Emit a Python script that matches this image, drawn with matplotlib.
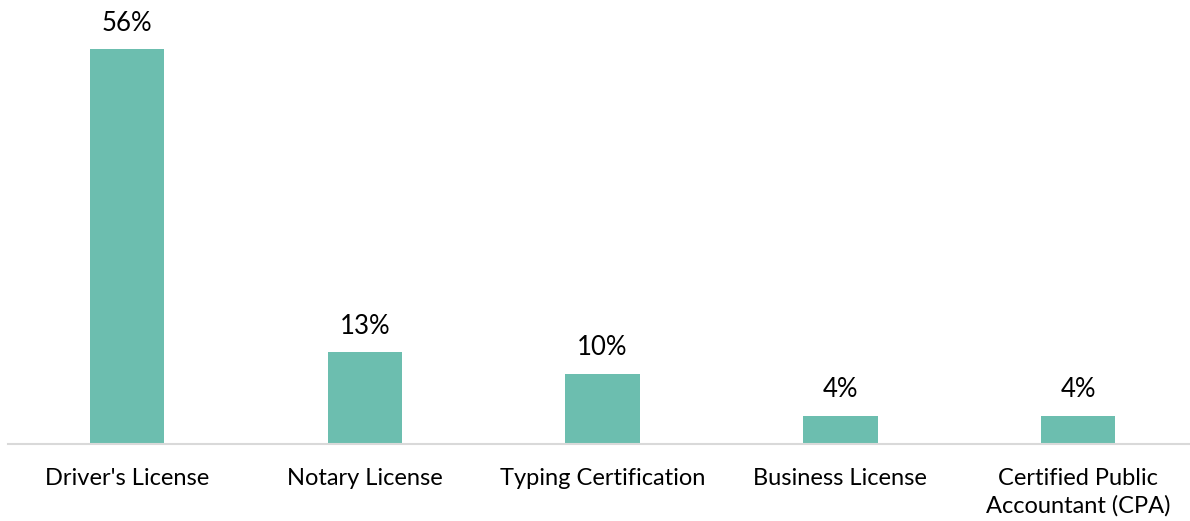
import matplotlib
matplotlib.use("Agg")
from matplotlib import pyplot as plt

categories = ["Driver's License", "Notary License", "Typing Certification",
              "Business License", "Certified Public\nAccountant (CPA)"]
values = [56, 13, 10, 4, 4]
labels = ["56%", "13%", "10%", "4%", "4%"]

plt.rcParams['font.family'] = ['Lato', 'DejaVu Sans']

fig = plt.figure(figsize=(11.9, 5.21), dpi=100)
ax = fig.add_axes([8 / 1190, 77 / 521, 1182 / 1190, 423 / 521])

x = list(range(len(categories)))
bars = ax.bar(x, values, width=0.313, color="#6CBEAF")

# value labels sit a bit above each bar
for xi, v, lab in zip(x, values, labels):
    ax.text(xi, v + 1.9, lab, ha="center", va="bottom", fontsize=18.5, color="#000000")

ax.set_xlim(-0.5, 4.47)
ax.set_ylim(0, 60)
ax.set_xticks(x)
ax.set_xticklabels(categories, fontsize=17, linespacing=1.35)
ax.tick_params(axis="x", length=0, pad=17)
ax.set_yticks([])

for side in ["top", "right", "left"]:
    ax.spines[side].set_visible(False)
ax.spines["bottom"].set_color("#D9D9D9")
ax.spines["bottom"].set_linewidth(1.5)

fig.savefig("out.png", dpi=100)
